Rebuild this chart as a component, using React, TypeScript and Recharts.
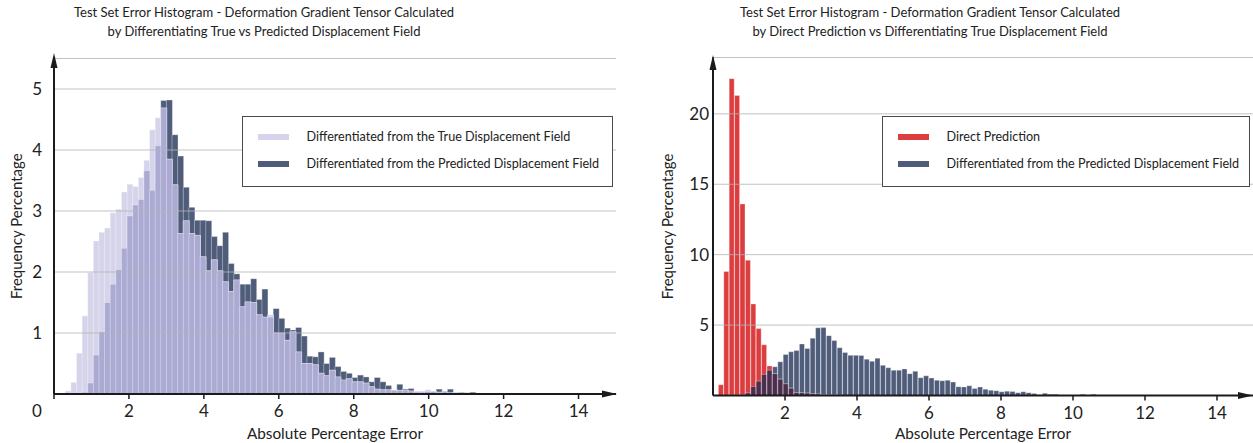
import React from 'react';
import { ComposedChart, Bar, XAxis, YAxis, CartesianGrid, Legend, Label } from 'recharts';

// ---- histogram data (frequency %, 100 bins of width 0.15 starting at 0) ----
const BIN_WIDTH = 0.15;
const BIN_COUNT = 100;

// Differentiated from the true displacement field
const TRUE_FIELD = [
  0, 0, 0.05, 0.19, 0.67, 1.28, 1.99, 2.51, 2.65, 2.72,
  2.97, 3.03, 3.31, 3.44, 3.4, 3.55, 3.83, 4.33, 4.53, 4.69,
  3.85, 3.43, 2.63, 2.84, 2.63, 2.6, 2.25, 2.02, 2.2, 2.02,
  1.84, 1.68, 1.87, 1.43, 1.51, 1.5, 1.3, 1.26, 1.3, 1.0,
  1.0, 0.88, 1.02, 0.69, 0.5, 0.5, 0.48, 0.34, 0.3, 0.39,
  0.28, 0.23, 0.25, 0.2, 0.2, 0.18, 0.12, 0.08, 0.07, 0.07,
  0.07, 0.06, 0.06, 0.05, 0.05, 0.05, 0.07, 0.04, 0.03, 0.02,
  0.02, 0.03, 0.02, 0.01, 0.01, 0.01, 0.01,
];

// Differentiated from the predicted displacement field
const PREDICTED_FIELD = [
  0, 0.01, 0.02, 0.02, 0.02, 0.03, 0.18, 0.64, 1.02, 1.5,
  1.8, 2.04, 2.39, 2.92, 3.1, 3.19, 3.66, 3.34, 4.07, 4.81,
  4.82, 4.25, 3.9, 3.39, 3.06, 2.85, 2.85, 2.84, 2.58, 2.43,
  2.65, 2.14, 1.97, 1.8, 1.8, 1.89, 1.55, 1.72, 1.26, 1.4,
  1.24, 1.08, 1.05, 1.09, 0.95, 0.62, 0.61, 0.69, 0.5, 0.6,
  0.45, 0.37, 0.34, 0.27, 0.31, 0.28, 0.2, 0.27, 0.2, 0.14,
  0.06, 0.16, 0.08, 0.09, 0.03, 0.03, 0.04, 0.04, 0.08, 0.04,
  0.08, 0.02, 0.03, 0.02, 0.03, 0.01, 0.01, 0, 0, 0, 0.01,
];

// Direct prediction of the deformation gradient tensor
const DIRECT_PREDICTION = [
  0, 0.76, 8.8, 22.5, 21.3, 13.6, 9.6, 6.5, 4.75, 3.6,
  2.1, 1.55, 1.16, 0.83, 0.52, 0.21, 0.2, 0.17, 0.12, 0.1,
  0.07, 0.05, 0.03, 0.02,
];

const X_TICKS_LEFT = [0, 2, 4, 6, 8, 10, 12, 14];
const X_TICKS_RIGHT = [2, 4, 6, 8, 10, 12, 14];
const Y_TICKS_LEFT = [1, 2, 3, 4, 5];
const Y_TICKS_RIGHT = [5, 10, 15, 20];

const TITLE_LEFT = [
  'Test Set Error Histogram - Deformation Gradient Tensor Calculated',
  'by Differentiating True vs Predicted Displacement Field',
];
const TITLE_RIGHT = [
  'Test Set Error Histogram - Deformation Gradient Tensor Calculated',
  'by Direct Prediction vs Differentiating True Displacement Field',
];
const X_LABEL = 'Absolute Percentage Error';
const Y_LABEL = 'Frequency Percentage';

// ---- styling ----
const FONT = 'Lato, "Open Sans", sans-serif';
const INK = '#222222';
const AXIS = '#1b1b1b';
const GRID = '#b4b4b4';
const LAVENDER = '#d5d4ea';
const LAVENDER_MID = '#aaaad3';
const SLATE = '#4f5c7a';
const RED = '#dc3d3e';
const PLUM = '#4a2e4e';

const LEGEND_LEFT = [
  { label: 'Differentiated from the True Displacement Field', color: LAVENDER },
  { label: 'Differentiated from the Predicted Displacement Field', color: SLATE },
];
const LEGEND_RIGHT = [
  { label: 'Direct Prediction', color: RED },
  { label: 'Differentiated from the Predicted Displacement Field', color: SLATE },
];

type Row = { bin: number; x: number; a: number; b: number; both: number };

// a: first series, b: second series, both: the part where they overlap
function buildRows(a: number[], b: number[]): Row[] {
  return Array.from({ length: BIN_COUNT }, (_, i) => {
    const va = a[i] ?? 0;
    const vb = b[i] ?? 0;
    return { bin: i, x: +(i * BIN_WIDTH).toFixed(2), a: va, b: vb, both: Math.min(va, vb) };
  });
}

const leftRows = buildRows(TRUE_FIELD, PREDICTED_FIELD);
const rightRows = buildRows(DIRECT_PREDICTION, PREDICTED_FIELD);

type LegendEntry = { label: string; color: string };

function LegendBox({ entries }: { entries: LegendEntry[] }) {
  return (
    <div
      style={{
        width: '100%',
        height: '100%',
        boxSizing: 'border-box',
        border: '1.5px solid #4a4a4a',
        background: '#ffffff',
        position: 'relative',
        fontFamily: FONT,
        fontSize: 12.6,
        color: INK,
      }}
    >
      {entries.map((e, i) => (
        <div key={e.label} style={{ position: 'absolute', left: 0, top: 12 + i * 27.3, height: 16, width: '100%' }}>
          <div style={{ position: 'absolute', left: 15, top: 5, width: 31, height: 6, background: e.color }} />
          <div style={{ position: 'absolute', left: 64, top: 0, lineHeight: '16px', whiteSpace: 'nowrap' }}>{e.label}</div>
        </div>
      ))}
    </div>
  );
}

type PanelProps = {
  rows: Row[];
  left: number;
  width: number;
  marginTop: number;
  marginRight: number;
  yAxisWidth: number;
  xAxisHeight: number;
  yMax: number;
  yTicks: number[];
  xTicks: number[];
  yTickMargin: number;
  colA: string;
  colB: string;
  colBoth: string;
  legend: LegendEntry[];
  legendBox: { left: number; top: number; width: number; height: number };
  title: string[];
  titleCenter: number;
  yLabelX: number;
  originShift: number;
};

function Panel(p: PanelProps) {
  const xTick = (props: any) => {
    const { x, y, payload } = props;
    const v = payload.value;
    return (
      <text x={v === 0 ? x - p.originShift : x} y={y} dy={12} textAnchor="middle" fill={INK} fontSize={17} fontFamily={FONT}>
        {v}
      </text>
    );
  };
  const yTitle = (props: any) => {
    const vb = props.viewBox;
    const cy = vb.y + vb.height / 2;
    return (
      <text
        x={p.yLabelX}
        y={cy}
        transform={`rotate(-90 ${p.yLabelX} ${cy})`}
        textAnchor="middle"
        dominantBaseline="central"
        fill={INK}
        fontSize={15}
        fontFamily={FONT}
      >
        {Y_LABEL}
      </text>
    );
  };
  const xTitle = (props: any) => {
    const vb = props.viewBox;
    return (
      <text
        x={vb.x + vb.width / 2}
        y={vb.y + vb.height - 10}
        textAnchor="middle"
        dominantBaseline="central"
        fill={INK}
        fontSize={15.3}
        fontFamily={FONT}
      >
        {X_LABEL}
      </text>
    );
  };
  const barEdge = { stroke: '#ffffff', strokeOpacity: 0.45, strokeWidth: 0.7 };
  return (
    <div style={{ position: 'absolute', left: p.left, top: 0, width: p.width, height: 443 }}>
      <ComposedChart
        width={p.width}
        height={443}
        data={p.rows}
        margin={{ top: p.marginTop, right: p.marginRight, bottom: 0, left: 0 }}
        barCategoryGap={0}
        barGap={0}
      >
        <XAxis
          xAxisId="num"
          dataKey="x"
          type="number"
          domain={[0, 15]}
          ticks={p.xTicks}
          interval={0}
          allowDataOverflow
          height={p.xAxisHeight}
          tickSize={5}
          tickMargin={6}
          tickLine={{ stroke: AXIS, strokeWidth: 1.5 }}
          axisLine={{ stroke: AXIS, strokeWidth: 2 }}
          tick={xTick}
        >
          <Label content={xTitle} />
        </XAxis>
        <XAxis xAxisId="binA" dataKey="bin" type="category" hide height={0} />
        <XAxis xAxisId="binB" dataKey="bin" type="category" hide height={0} />
        <XAxis xAxisId="binBoth" dataKey="bin" type="category" hide height={0} />
        <YAxis
          yAxisId="freq"
          type="number"
          domain={[0, p.yMax]}
          ticks={p.yTicks}
          allowDataOverflow
          width={p.yAxisWidth}
          tickLine={false}
          tickSize={0}
          tickMargin={p.yTickMargin}
          axisLine={{ stroke: AXIS, strokeWidth: 2 }}
          tick={{ fontSize: 17, fill: INK, fontFamily: FONT }}
        >
          <Label content={yTitle} />
        </YAxis>
        <Bar xAxisId="binB" yAxisId="freq" dataKey="b" fill={p.colB} {...barEdge} isAnimationActive={false} legendType="none" />
        <Bar xAxisId="binA" yAxisId="freq" dataKey="a" fill={p.colA} {...barEdge} isAnimationActive={false} legendType="none" />
        <Bar xAxisId="binBoth" yAxisId="freq" dataKey="both" fill={p.colBoth} {...barEdge} isAnimationActive={false} legendType="none" />
        <CartesianGrid xAxisId="num" yAxisId="freq" vertical={false} stroke={GRID} strokeOpacity={0.8} zIndex={350} />
        <Legend
          layout="horizontal"
          verticalAlign="middle"
          align="center"
          wrapperStyle={{
            left: p.legendBox.left,
            top: p.legendBox.top,
            width: p.legendBox.width,
            height: p.legendBox.height,
          }}
          content={() => <LegendBox entries={p.legend} />}
        />
      </ComposedChart>
      <div
        style={{
          position: 'absolute',
          left: p.titleCenter - 300,
          width: 600,
          top: 3,
          textAlign: 'center',
          fontFamily: FONT,
          fontSize: 13,
          lineHeight: '19px',
          color: INK,
        }}
      >
        {p.title.map((t) => (
          <div key={t}>{t}</div>
        ))}
      </div>
    </div>
  );
}

export default function App() {
  return (
    <div style={{ position: 'absolute', left: 0, top: 0, width: 1253, height: 443, background: '#ffffff', overflow: 'hidden' }}>
      <Panel
        rows={leftRows}
        left={0}
        width={626}
        marginTop={58.5}
        marginRight={10}
        yAxisWidth={54}
        xAxisHeight={49}
        yMax={5.5}
        yTicks={Y_TICKS_LEFT}
        xTicks={X_TICKS_LEFT}
        yTickMargin={12}
        colA={LAVENDER}
        colB={SLATE}
        colBoth={LAVENDER_MID}
        legend={LEGEND_LEFT}
        legendBox={{ left: 241.5, top: 115.5, width: 371, height: 71 }}
        title={TITLE_LEFT}
        titleCenter={264}
        yLabelX={16}
        originShift={17}
      />
      <Panel
        rows={rightRows}
        left={640}
        width={613}
        marginTop={57.5}
        marginRight={0}
        yAxisWidth={73}
        xAxisHeight={47.5}
        yMax={24}
        yTicks={Y_TICKS_RIGHT}
        xTicks={X_TICKS_RIGHT}
        yTickMargin={4}
        colA={RED}
        colB={SLATE}
        colBoth={PLUM}
        legend={LEGEND_RIGHT}
        legendBox={{ left: 241.5, top: 115.5, width: 368, height: 71 }}
        title={TITLE_RIGHT}
        titleCenter={290}
        yLabelX={27}
        originShift={0}
      />
      {/* axis arrowheads */}
      <svg width={1253} height={443} style={{ position: 'absolute', left: 0, top: 0, pointerEvents: 'none' }}>
        <polygon points="617,394 602,390.5 602,397.5" fill={AXIS} />
        <polygon points="54,53 50.5,68 57.5,68" fill={AXIS} />
        <polygon points="1253,395.5 1238,392 1238,399" fill={AXIS} />
        <polygon points="713,55 709.5,70 716.5,70" fill={AXIS} />
      </svg>
    </div>
  );
}
